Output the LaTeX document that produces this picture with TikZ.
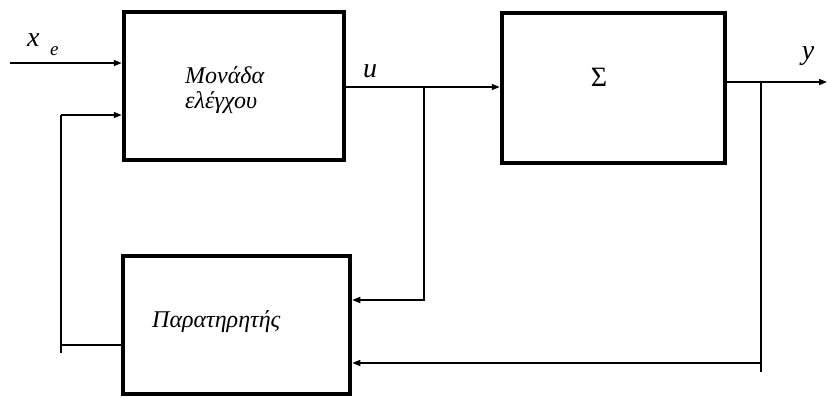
\documentclass[tikz,border=0pt]{standalone}
\usepackage{fontspec}
\setmainfont{Liberation Serif}
\usetikzlibrary{arrows.meta,calc}
\begin{document}
\begin{tikzpicture}[x=1pt,y=-1pt,
  blk/.style={draw,line width=4.5pt,minimum width=#1,inner sep=0pt},
  wire/.style={line width=1.6pt},
  fb/.style={line width=2.2pt},
  arr/.style={-{Triangle[length=8pt,width=6pt]}},
  lbl/.style={font=\itshape\fontsize{24}{28}\selectfont,inner sep=0pt,anchor=base west},
  sym/.style={font=\itshape\fontsize{28}{30}\selectfont,inner sep=0pt}]
  \useasboundingbox (0,0) rectangle (827,397);
  % blocks
  \node[blk=220pt,minimum height=148pt] (ctrl) at (234,86) {};
  \node[blk=223pt,minimum height=150pt] (sys) at (613.5,88) {};
  \node[blk=227pt,minimum height=138pt] (obs) at (236.5,325) {};
  % block texts
  \node[lbl] (ctrl1) at (185,83) {Μονάδα};
  \node[lbl] (ctrl2) at (185,108) {ελέγχου};
  \node[font=\fontsize{28}{30}\selectfont,inner sep=0pt] (systxt) at (599,77) {Σ};
  \node[lbl] (obstxt) at (152,327) {Παρατηρητής};
  % free ends and branch points
  \coordinate (xin) at (10,63);
  \coordinate (yout) at (827,82);
  \coordinate (ub) at (424,87);
  \coordinate (yb) at (761,82);
  \coordinate (fbl) at (61,345);
  % input x_e
  \draw[wire,arr] (xin) -- (xin -| ctrl.west);
  \node[sym,anchor=base west] (xe) at (27,46) {x};
  \node[font=\itshape\fontsize{19}{20}\selectfont,inner sep=0pt,anchor=base west] (xesub) at (50,55) {e};
  % u
  \draw[wire,arr] (ctrl.east |- ub) -- (sys.west |- ub);
  \node[sym] (ulbl) at (370,71) {u};
  \draw[wire,arr] (ub) -- (ub |- 0,300) -- (obs.east |- 0,300);
  % y
  \draw[wire,arr] (sys.east |- yout) -- (yout);
  \node[sym] (ylbl) at (808,56) {y};
  \draw[fb] (yb) -- (yb |- 0,372);
  \draw[wire,arr] (yb |- 0,363) -- (obs.east |- 0,363);
  % observer feedback to control unit
  \draw[fb] (obs.west |- fbl) -- (fbl);
  \draw[fb] (61,353) -- (61,115);
  \draw[wire,arr] (61,115) -- (ctrl.west |- 0,115);
\end{tikzpicture}
\end{document}
